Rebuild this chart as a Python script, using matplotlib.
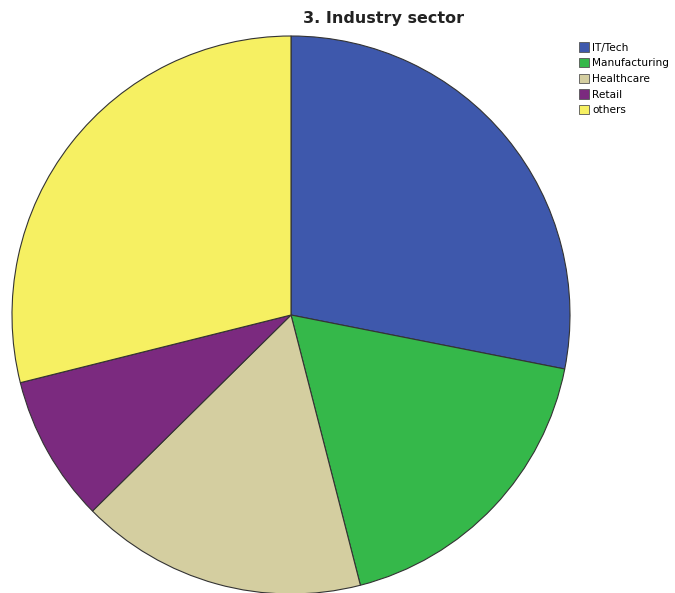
import matplotlib.pyplot as plt
from matplotlib.patches import Patch

labels = ['IT/Tech', 'Manufacturing', 'Healthcare', 'Retail', 'others']
shares = [28.1, 17.9, 16.6, 8.5, 28.9]
colors = ['#3e58ac', '#35b84a', '#d4cea0', '#7b2a7f', '#f6f062']

fig = plt.figure(figsize=(6.75, 5.93), dpi=100)

# pie axes: centre ~ (291, 315) px, radius ~279 px
ax = fig.add_axes([12 / 675, -1 / 593, 558 / 675, 558 / 593])
ax.pie(shares, colors=colors, startangle=90, counterclock=False,
       radius=1.0, wedgeprops=dict(edgecolor='#333333', linewidth=0.8))
ax.set_xlim(-1.0, 1.0)
ax.set_ylim(-1.0, 1.0)
ax.set_aspect('equal')
ax.axis('off')

fig.text(384 / 675, 1 - 18 / 593, '3. Industry sector', ha='center', va='center',
         fontsize=11.5, fontweight='bold', color='#222222')

handles = [Patch(facecolor=c, edgecolor='#555555', linewidth=0.6) for c in colors]
fig.legend(handles, labels, loc='upper left', bbox_to_anchor=(572 / 675, 1 - 35 / 593),
           frameon=False, fontsize=7.6, handlelength=0.9, handleheight=1.0,
           handletextpad=0.3, labelspacing=0.5, borderpad=0.2)

fig.savefig('out.png', dpi=100)
